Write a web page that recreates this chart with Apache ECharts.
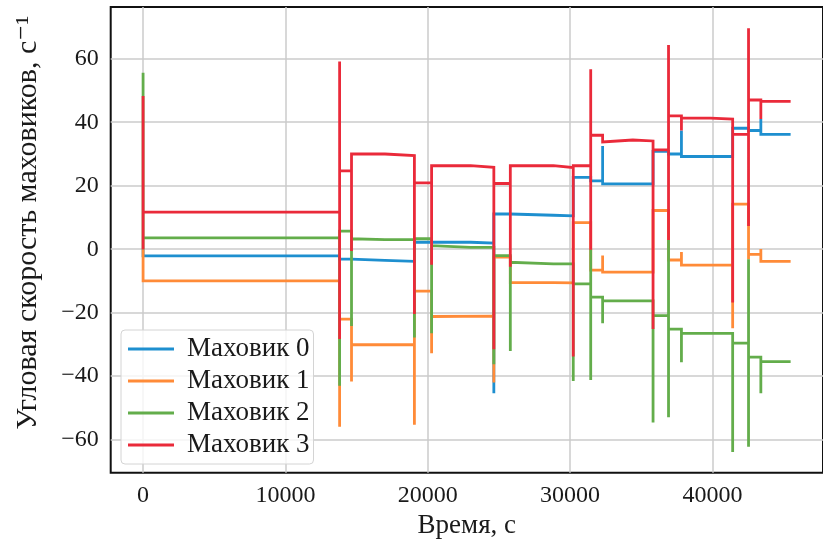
<!DOCTYPE html>
<html>
<head>
<meta charset="utf-8">
<script src="https://cdn.jsdelivr.net/npm/echarts@6/dist/echarts.min.js"></script>
<style>html,body{margin:0;padding:0;background:#fff;}#c{width:823px;height:548px;}</style>
</head>
<body>
<div id="c"></div>
<script>
const seriesNames = ['Маховик 0', 'Маховик 1', 'Маховик 2', 'Маховик 3'];
const xTitle = 'Время, с';
const yTitle = 'Угловая скорость маховиков, с⁻¹';

const t0 = [0,0,13808,13808,14644,14644,16995,16995,19063,19063,23013,23013,24644,24644,24644,25802,25802,28829,28829,30223,30223,31450,31450,32287,32287,32287,35830,35830,36917,36917,37824,37824,37824,41423,41423,42538,42538,43403,43403,43403,45495];
const v0 = [0,-2.1,-2.1,-3.1,-3.1,-3.5,-3.5,-3.8,-3.8,2.2,2.2,1.9,1.9,-45.4,11.1,11.1,10.7,10.7,10.5,10.5,22.6,22.6,21.5,21.5,32.5,20.6,20.6,30.8,30.8,30.0,30.0,37.4,29.2,29.2,38.1,38.1,37.4,37.4,41.0,36.2,36.2];

const t1 = [0,0,13808,13808,13808,14644,14644,14644,19063,19063,19063,20270,20270,20270,24644,24644,24644,25802,25802,28829,28829,30223,30223,31450,31450,32287,32287,32287,35830,35830,36917,36917,37824,37824,37824,41423,41423,41423,42538,42538,42538,43403,43403,43403,45495];
const v1 = [0,-10.0,-10.0,-55.9,-22.0,-22.0,-41.7,-30.1,-30.1,-55.3,-13.2,-13.2,-32.8,-21.2,-21.1,-42.0,-2.5,-2.5,-10.5,-10.5,-10.6,-10.6,8.4,8.4,-6.6,-6.6,-2.0,-7.2,-7.2,12.2,12.2,-3.4,-3.4,-0.9,-5.0,-5.0,-24.9,14.2,14.2,-3.2,-1.6,-1.6,0.1,-3.8,-3.8];

const t2 = [0,0,0,13808,13808,13808,14644,14644,14644,16995,19063,19063,19063,20270,20270,20270,23013,24644,24644,24644,25802,25802,25802,28829,30223,30223,30223,31450,31450,31450,31450,32287,32287,32287,35830,35830,35830,36917,36917,36917,36917,37824,37824,37824,41423,41423,41423,42538,42538,42538,42538,43403,43403,43403,45495];
const v2 = [0,55.6,3.6,3.6,-43.0,5.7,5.7,-24.2,3.3,3.0,3.0,-27.8,3.3,3.3,-26.5,1.1,0.6,0.6,-36.2,-2.0,-2.0,-32.1,-4.1,-4.6,-4.6,-41.5,-10.9,-10.9,0,-41.2,-15.1,-15.1,-23.3,-16.3,-16.3,-54.6,-20.9,-20.9,2.9,-52.9,-25.2,-25.2,-35.6,-26.5,-26.5,-63.9,-29.6,-29.6,-3.2,-62.2,-34.0,-34.0,-45.4,-35.4,-35.4];

const t3 = [0,0,0,13808,13808,13808,13808,14644,14644,14644,16995,16995,19063,19063,19063,20270,20270,20270,23013,23013,24644,24644,24644,25802,25802,25802,28829,28829,30223,30223,30223,31450,31450,31450,31450,32287,32287,32287,34407,34407,35830,35830,35830,36917,36917,36917,36917,37824,37824,37824,39868,39868,41423,41423,41423,42538,42538,42538,42538,43403,43403,43403,45495];
const v3 = [0,48.3,11.7,11.7,59.1,-28.3,24.7,24.7,-0.6,30.0,30.0,29.5,29.5,-20.4,20.9,20.9,-4.9,26.3,26.3,25.8,25.8,-31.5,20.7,20.7,-5.5,26.3,26.3,25.7,25.7,-33.8,26.3,26.3,56.7,-0.2,35.9,35.9,33.8,34.4,34.4,34.1,34.1,-25.1,31.3,31.3,64.3,2.9,42.0,42.0,37.4,41.3,41.3,41.0,41.0,-16.8,36.2,36.2,69.6,7.3,47.0,47.0,41.0,46.6,46.6];

const xMin = -2275, xMax = 47770;
const yMin = -70.4, yMax = 76.3;

const colors = ['#1e8fcf', '#ff8b38', '#63ad4b', '#ea2a3a'];
const times = [t0, t1, t2, t3];
const vals = [v0, v1, v2, v3];

const FONT = '"Liberation Serif", "DejaVu Serif", serif';
const fmt = v => String(v).replace('-', '\u2212');

const chart = echarts.init(document.getElementById('c'), null, {renderer: 'canvas'});
chart.setOption({
  animation: false,
  backgroundColor: '#fff',
  color: colors,
  grid: {left: 110.7, right: -5, top: 7, bottom: 75.3, show: true, borderColor: '#111', borderWidth: 2, backgroundColor: 'transparent'},
  legend: {
    orient: 'vertical', left: 121, top: 330,
    data: seriesNames,
    icon: 'rect', itemWidth: 46, itemHeight: 3,
    itemGap: 4, padding: [5, 4, 5, 7],
    backgroundColor: 'rgba(255,255,255,0.8)',
    borderColor: '#d4d4d4', borderWidth: 1, borderRadius: 4,
    textStyle: {fontFamily: FONT, fontSize: 27, color: '#1a1a1a', lineHeight: 28, padding: [0, 0, 0, 8]}
  },
  xAxis: {
    type: 'value', min: xMin, max: xMax, minInterval: 10000, maxInterval: 10000,
    name: xTitle, nameLocation: 'middle', nameGap: 39,
    nameTextStyle: {fontFamily: FONT, fontSize: 27, color: '#1a1a1a'},
    axisLine: {show: false}, axisTick: {show: false},
    axisLabel: {fontFamily: FONT, fontSize: 24, color: '#1a1a1a', margin: 11, showMinLabel: false, showMaxLabel: false, formatter: fmt},
    splitLine: {show: true, showMinLine: false, showMaxLine: false, lineStyle: {color: '#cbcbcb', width: 1.5}}
  },
  yAxis: {
    type: 'value', min: yMin, max: yMax, minInterval: 20, maxInterval: 20,
    name: yTitle, nameLocation: 'middle', nameGap: 68, nameRotate: 90,
    nameTextStyle: {fontFamily: FONT, fontSize: 30, color: '#1a1a1a', padding: [0, 0, 0, 34]},
    axisLine: {show: false}, axisTick: {show: false},
    axisLabel: {fontFamily: FONT, fontSize: 24, color: '#1a1a1a', margin: 12, showMinLabel: false, showMaxLabel: false, formatter: fmt},
    splitLine: {show: true, showMinLine: false, showMaxLine: false, lineStyle: {color: '#cbcbcb', width: 1.5}}
  },
  series: seriesNames.map((n, i) => ({
    name: n, type: 'line', showSymbol: false, symbol: 'none',
    data: times[i].map((t, j) => [t, vals[i][j]]),
    lineStyle: {width: 2.8, color: colors[i], join: 'miter'},
    itemStyle: {color: colors[i]},
    clip: true
  }))
});
</script>
</body>
</html>
